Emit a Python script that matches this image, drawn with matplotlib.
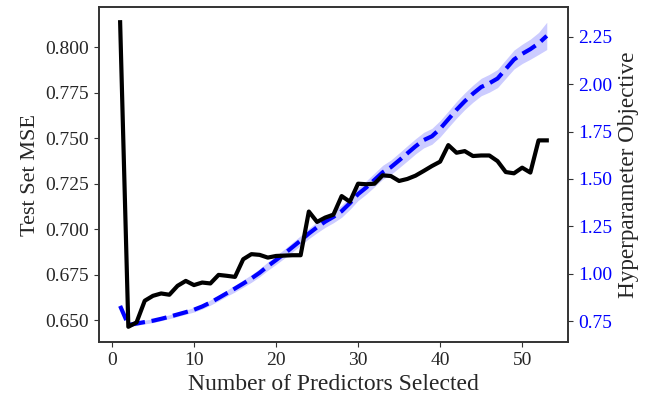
import matplotlib
matplotlib.use("Agg")
import matplotlib.pyplot as plt
import numpy as np

plt.rcParams["font.family"] = ["Liberation Serif", "DejaVu Serif"]

# Number of predictors kept by the selection procedure
n_predictors = list(range(1, 54))

# Test-set mean squared error for each model size
test_mse = [
    0.8137, 0.6464, 0.6488, 0.6607, 0.6634, 0.6647, 0.6640, 0.6689, 0.6716, 0.6693,
    0.6707, 0.6702, 0.6749, 0.6744, 0.6738, 0.6835, 0.6863, 0.6859, 0.6844, 0.6853,
    0.6855, 0.6857, 0.6857, 0.7097, 0.7040, 0.7064, 0.7080, 0.7182, 0.7151, 0.7250,
    0.7247, 0.7250, 0.7296, 0.7292, 0.7265, 0.7276, 0.7294, 0.7320, 0.7347, 0.7371,
    0.7462, 0.7420, 0.7429, 0.7402, 0.7405, 0.7405, 0.7374, 0.7314, 0.7307, 0.7338,
    0.7311, 0.7488, 0.7488,
]

# Hyperparameter objective (mean) and its spread
objective = [
    0.830, 0.730, 0.737, 0.745, 0.752, 0.762, 0.773, 0.785, 0.797, 0.810,
    0.827, 0.848, 0.872, 0.897, 0.922, 0.948, 0.975, 1.005, 1.040, 1.072,
    1.105, 1.140, 1.175, 1.212, 1.245, 1.275, 1.300, 1.330, 1.372, 1.420,
    1.455, 1.495, 1.535, 1.562, 1.598, 1.635, 1.672, 1.705, 1.725, 1.765,
    1.815, 1.865, 1.910, 1.950, 1.985, 2.005, 2.030, 2.080, 2.130, 2.160,
    2.185, 2.215, 2.255,
]
objective_sd = [
    0.010, 0.010, 0.010, 0.010, 0.010, 0.010, 0.010, 0.011, 0.011, 0.012,
    0.013, 0.014, 0.015, 0.016, 0.018, 0.019, 0.020, 0.021, 0.022, 0.023,
    0.024, 0.025, 0.026, 0.027, 0.029, 0.030, 0.031, 0.032, 0.033, 0.034,
    0.035, 0.036, 0.037, 0.038, 0.039, 0.040, 0.040, 0.041, 0.042, 0.043,
    0.043, 0.044, 0.044, 0.045, 0.046, 0.047, 0.048, 0.049, 0.050, 0.051,
    0.053, 0.058, 0.072,
]

x = np.array(n_predictors)
obj = np.array(objective)
sd = np.array(objective_sd)

fig = plt.figure(figsize=(6.5, 4.0), dpi=100)
ax1 = fig.add_axes([0.152, 0.145, 0.722, 0.8375])
ax2 = ax1.twinx()

text_col = "#262626"
spine_col = "#333333"

ax2.fill_between(x, obj - sd, obj + sd, color="blue", alpha=0.2, linewidth=0)
ax2.plot(x, obj, color="blue", linestyle="--", linewidth=3)

ax1.plot(x, test_mse, color="black", linewidth=3)

# keep the MSE curve above the objective curve
ax1.set_zorder(ax2.get_zorder() + 1)
ax1.patch.set_visible(False)

ax1.set_xlabel("Number of Predictors Selected", fontsize=17, color=text_col)
ax1.set_ylabel("Test Set MSE", fontsize=16, color=text_col)
ax2.set_ylabel("Hyperparameter Objective", fontsize=16.7, color=text_col)

ax1.set_yticks([0.650, 0.675, 0.700, 0.725, 0.750, 0.775, 0.800])
ax1.set_yticklabels(["0.650", "0.675", "0.700", "0.725", "0.750", "0.775", "0.800"])
ax2.set_yticks([0.75, 1.00, 1.25, 1.50, 1.75, 2.00, 2.25])
ax2.set_yticklabels(["0.75", "1.00", "1.25", "1.50", "1.75", "2.00", "2.25"])
ax1.set_xticks([0, 10, 20, 30, 40, 50])

ax1.tick_params(axis="both", labelsize=14, colors=text_col)
ax1.tick_params(axis="both", color=spine_col)
ax2.tick_params(axis="y", labelsize=14, labelcolor="blue", color=spine_col)

for a in (ax1, ax2):
    for s in a.spines.values():
        s.set_color(spine_col)
        s.set_linewidth(1.2)

fig.savefig("out.png", dpi=100)
